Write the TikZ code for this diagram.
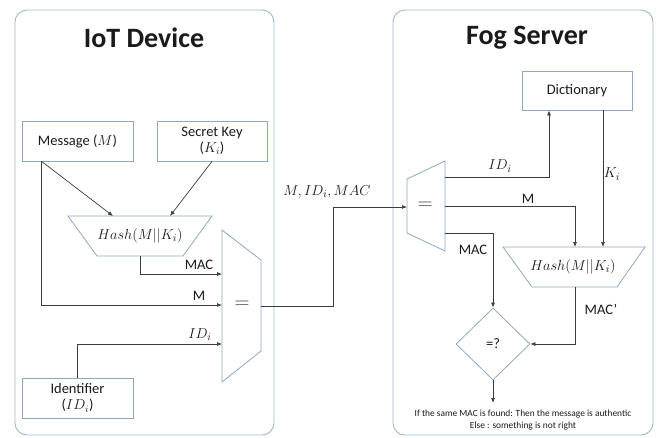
\documentclass[tikz,border=0pt]{standalone}
\usepackage{fontspec}
\setmainfont{Carlito}
\usetikzlibrary{arrows.meta,shapes.geometric}
\definecolor{panelc}{HTML}{9FB6CC}
\definecolor{boxc}{HTML}{8CA8C6}
\definecolor{linec}{HTML}{3C3C3C}
\definecolor{txtc}{HTML}{1A1A1A}
\tikzset{
  panel/.style={draw=panelc, line width=0.9pt, rounded corners=12pt},
  box/.style={draw=boxc, line width=0.8pt, rectangle, align=center, text=txtc, font=\fontsize{14.5}{16}\selectfont, inner sep=0pt},
  shp/.style={draw=boxc, line width=0.8pt},
  conn/.style={draw=linec, line width=0.7pt, -{Latex[length=5pt,width=4pt]}},
  lbl/.style={text=txtc, font=\fontsize{14.5}{16}\selectfont, inner sep=0pt},
  mlbl/.style={text=txtc, font=\fontsize{15.5}{17}\selectfont, inner sep=0pt},
  ttl/.style={text=txtc, font=\bfseries\fontsize{28}{32}\selectfont, inner sep=0pt},
  eqs/.style={text=linec, font=\fontsize{22}{24}\selectfont, inner sep=0pt},
}
\begin{document}
\begin{tikzpicture}[x=1pt,y=-1pt]
\useasboundingbox (0,0) rectangle (658,437);
% panels
\draw[panel] (15,10) rectangle (274,435);
\draw[panel] (393,10) rectangle (653,435);
\node[ttl] (t1) at (144,38) {IoT Device};
\node[ttl] (t2) at (527,38) {Fog Server};

% left side boxes
\node[box, minimum width=111pt, minimum height=40pt] (msg) at (77.5,141) {Message ($M$)};
\node[box, minimum width=110pt, minimum height=40pt] (key) at (212,141) {Secret Key\\($K_i$)};
\node[box, minimum width=111pt, minimum height=40pt] (idf) at (77.5,398) {Identifier\\($ID_i$)};

% left hash trapezium
\draw[shp] (68,216) -- (212,216) -- (183,256) -- (97,256) -- cycle;
\node[mlbl] (hashL) at (140,236) {$Hash(M||K_i)$};
\coordinate (hLa) at (113,216);
\coordinate (hLb) at (170,216);
\coordinate (hLo) at (140,256);

% left mux
\draw[shp] (222,230) -- (261,260) -- (261,351) -- (222,382) -- cycle;
\node[eqs] (eqL) at (242,305) {$=$};
\coordinate (muxMAC) at (222,274);
\coordinate (muxM) at (222,305);
\coordinate (muxID) at (222,344);
\coordinate (muxOut) at (261,306);

% left connectors
\draw[conn] ([xshift=20pt]msg.south west) -- (hLa);
\draw[conn] (key.south) -- (hLb);
\draw[conn] ([xshift=20pt]msg.south west) |- (muxM);
\draw[conn] (hLo) |- (muxMAC);
\draw[conn] (idf.north) |- (muxID);

\node[lbl, anchor=south] (lMAC) at (199,270) {MAC};
\node[lbl, anchor=south] (lM) at (199,301) {M};
\node[mlbl, anchor=south] (lID) at (200,341) {$ID_i$};

% transmission
\coordinate (muxRin) at (407,207);
\draw[conn] (muxOut) -- (333,306) -- (333,207) -- (muxRin);
\node[mlbl] (lTx) at (327,192) {$M,ID_i,MAC$};

% right mux
\draw[shp] (407,179) -- (445,161) -- (445,251) -- (407,233) -- cycle;
\node[eqs] (eqR) at (425,206) {$=$};
\coordinate (oID) at (445,177);
\coordinate (oM) at (445,206);
\coordinate (oMAC) at (445,233);

% dictionary
\node[box, minimum width=110pt, minimum height=39pt] (dict) at (577,90.5) {Dictionary};

% right hash
\draw[shp] (503,247) -- (645,247) -- (617,287) -- (532,287) -- cycle;
\node[mlbl] (hashR) at (573,267) {$Hash(M||K_i)$};
\coordinate (hRm) at (575,247);
\coordinate (hRk) at (603,247);
\coordinate (hRo) at (575,287);

% diamond
\node[draw=boxc, line width=0.8pt, diamond, inner sep=0pt, minimum width=74pt, minimum height=72pt, text=txtc, font=\fontsize{14.5}{16}\selectfont] (cmp) at (493,344) {=?};
\coordinate (endp) at (493,403);

% right connectors
\draw[conn] (oID) -| ([xshift=-28pt]dict.south);
\draw[conn] ([xshift=26pt]dict.south) -- (hRk);
\draw[conn] (oM) -| (hRm);
\draw[conn] (oMAC) -| (cmp.north);
\draw[conn] (hRo) |- (cmp.east);
\draw[conn] (cmp.south) -- (endp);

\node[mlbl] (lIDr) at (500,166) {$ID_i$};
\node[mlbl] (lKi) at (612,174) {$K_i$};
\node[lbl] (lMr) at (528,199) {M};
\node[lbl] (lMACr) at (473,250) {MAC};
\node[lbl] (lMACp) at (601,309) {MAC’};

\node[text=txtc, font=\fontsize{9.4}{12}\selectfont, align=center, inner sep=0pt] (note) at (523,420) {If the same MAC is found: Then the message is authentic\\Else : something is not right};
\end{tikzpicture}
\end{document}
